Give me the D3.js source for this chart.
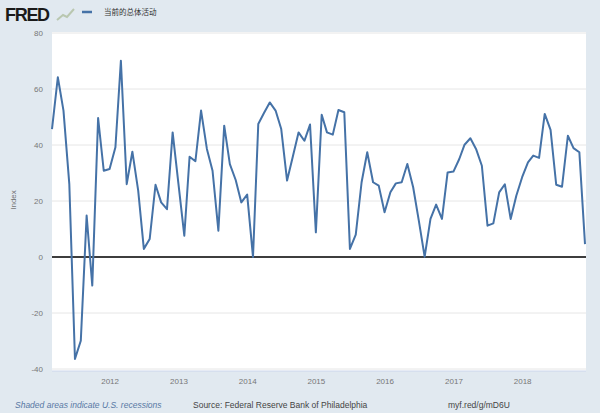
<!DOCTYPE html>
<html>
<head>
<meta charset="utf-8">
<script src="https://cdn.jsdelivr.net/npm/d3@7"></script>
<style>
  body { margin: 0; background: #e1e9f0; }
  svg { display: block; font-family: "Liberation Sans", Arial, sans-serif; }
</style>
</head>
<body>
<script>
// monthly values, Mar 2011 - Dec 2018
const firstMonth = new Date(2011, 2, 1);
const values = [
  45.7, 64.2, 52.3, 26, -36.4, -29.9, 14.8, -10.2, 49.6, 30.8,
  31.4, 39.2, 70.1, 26, 37.6, 23.7, 2.9, 6.4, 25.8, 19.5,
  17.1, 44.5, 26, 7.6, 35.8, 34.2, 52.3, 38.6, 30.8, 9.4,
  46.9, 33.2, 27.5, 19.5, 22.3, 0, 47.5, 51.5, 55.2, 52.3,
  45.7, 27.3, 36, 44.5, 41.5, 47.3, 8.8, 50.8, 44.5, 43.7,
  52.5, 51.7, 2.9, 8, 26.7, 37.4, 26.7, 25.5, 16, 23.1,
  26.3, 26.7, 33.2, 24.9, 13, 0.1, 13.6, 18.7, 13.6, 30.2,
  30.5, 35, 40.1, 42.4, 38.6, 32.6, 11.2, 12, 23.1, 26,
  13.6, 21.9, 28.5, 33.8, 36.2, 35.4, 51.1, 45.4, 25.8, 25.1,
  43.3, 38.9, 37.4, 4.6
];
const yTicks = [-40, -20, 0, 20, 40, 60, 80];
const xTicks = [2012, 2013, 2014, 2015, 2016, 2017, 2018];
const seriesName = '当前的总体活动';

const W = 600, H = 413;
const m = { left: 52, right: 586, top: 33, bottom: 369 };

const data = values.map((v, i) => ({ date: d3.timeMonth.offset(firstMonth, i), value: v }));

const svg = d3.select('body').append('svg')
  .attr('width', W)
  .attr('height', H);

const x = d3.scaleTime()
  .domain(d3.extent(data, d => d.date))
  .range([m.left, m.right - 1]);
const y = d3.scaleLinear()
  .domain([-40, 80])
  .range([m.bottom, m.top]);

// plot panel
svg.append('rect')
  .attr('x', m.left).attr('y', m.top - 1)
  .attr('width', m.right - m.left).attr('height', m.bottom - m.top + 3)
  .attr('fill', '#fff');

// grid
svg.append('g')
  .selectAll('line')
  .data(yTicks)
  .join('line')
  .attr('x1', m.left).attr('x2', m.right)
  .attr('y1', d => y(d)).attr('y2', d => y(d))
  .attr('stroke', '#e6e6e6')
  .attr('stroke-width', 1);

// y labels
svg.append('g')
  .selectAll('text')
  .data(yTicks)
  .join('text')
  .attr('x', 43)
  .attr('y', d => y(d) + 3)
  .attr('text-anchor', 'end')
  .attr('font-size', 8)
  .attr('fill', '#777')
  .text(d => d);

svg.append('text')
  .attr('transform', 'translate(16,200) rotate(-90)')
  .attr('text-anchor', 'middle')
  .attr('font-size', 8)
  .attr('fill', '#777')
  .text('Index');

// x axis
const xAxis = d3.axisBottom(x)
  .tickValues(xTicks.map(yr => new Date(yr, 0, 1)))
  .tickFormat(d3.timeFormat('%Y'))
  .tickSize(0)
  .tickPadding(7);
const gx = svg.append('g')
  .attr('transform', 'translate(0,' + (m.bottom + 2) + ')')
  .call(xAxis);
gx.select('.domain').attr('stroke', '#ccd6eb').attr('d', 'M' + m.left + ',0H' + m.right);
gx.selectAll('text')
  .attr('font-size', 8)
  .attr('fill', '#777')
  .attr('font-family', 'inherit');

// zero line
svg.append('line')
  .attr('x1', m.left).attr('x2', m.right)
  .attr('y1', y(0)).attr('y2', y(0))
  .attr('stroke', '#000')
  .attr('stroke-width', 1.5);

// series
const line = d3.line()
  .x(d => x(d.date))
  .y(d => y(d.value));
svg.append('path')
  .datum(data)
  .attr('d', line)
  .attr('fill', 'none')
  .attr('stroke', '#4572a7')
  .attr('stroke-width', 2)
  .attr('stroke-linejoin', 'round');

// header
svg.append('text')
  .attr('x', 5).attr('y', 21)
  .attr('font-size', 18)
  .attr('font-weight', 'bold')
  .attr('letter-spacing', -1.3)
  .attr('fill', '#1a1a1a')
  .text('FRED');
svg.append('path')
  .attr('d', 'M57,20 L63,15 L67,17 L74,9')
  .attr('fill', 'none')
  .attr('stroke', '#b9c7b0')
  .attr('stroke-width', 2);
svg.append('line')
  .attr('x1', 82).attr('x2', 92)
  .attr('y1', 12).attr('y2', 12)
  .attr('stroke', '#4572a7')
  .attr('stroke-width', 2.5);
svg.append('text')
  .attr('x', 104).attr('y', 15)
  .attr('font-size', 7.5)
  .attr('font-family', '"Noto Sans CJK SC", sans-serif')
  .attr('fill', '#333')
  .text(seriesName);

// footer
svg.append('text')
  .attr('x', 15).attr('y', 408)
  .attr('font-size', 8.5)
  .attr('font-style', 'italic')
  .attr('fill', '#5778a4')
  .text('Shaded areas indicate U.S. recessions');
svg.append('text')
  .attr('x', 193).attr('y', 408)
  .attr('font-size', 8.5)
  .attr('fill', '#444')
  .text('Source: Federal Reserve Bank of Philadelphia');
svg.append('text')
  .attr('x', 448).attr('y', 408)
  .attr('font-size', 8.5)
  .attr('fill', '#444')
  .text('myf.red/g/mD6U');
</script>
</body>
</html>
